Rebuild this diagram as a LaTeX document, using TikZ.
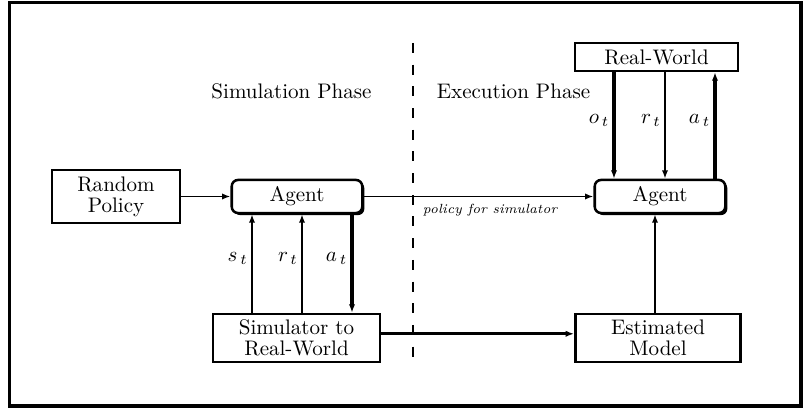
\documentclass[tikz,border=0pt]{standalone}
\usetikzlibrary{arrows.meta,shadows}
\newcommand\boxfont{\fontsize{10}{10}\selectfont}
\newcommand\edgefont{\fontsize{6.3}{7}\selectfont\itshape}
\tikzset{every node/.style={font=\boxfont},
    box/.style={draw,line width=1.2pt,align=center,inner sep=0pt,fill=white},
    agentbox/.style={box,rounded corners=3pt,minimum width=62pt,minimum height=15.7pt,
        drop shadow={shadow xshift=1pt,shadow yshift=-1pt,opacity=1,fill=black}},
    thinarr/.style={line width=0.9pt,-{Latex[length=4pt,width=3pt]}},
    thickarr/.style={line width=1.5pt,-{Latex[length=4pt,width=3pt]}},
    sig/.style={left,inner sep=1.5pt},
    frame/.style={line width=1.5pt},
    phaseline/.style={line width=0.85pt,dash pattern=on 4.75pt off 5.55pt},
    }

\begin{document}
\begin{tikzpicture}[x=0.475pt,y=-0.475pt]
	\useasboundingbox (0,0) rectangle (805,410);
	\draw[frame] (9.5,2.5) rectangle (801,406);
	\draw[phaseline] (413,43) -- (413,366);
	\node (simphase) at (291.5,91) {Simulation Phase};
	\node (exphase) at (513.5,91) {Execution Phase};
	% simulation side
	\node[box,minimum width=60.8pt,minimum height=25.2pt] (rand) at (116,196.5) {Random\\Policy};
	\node[agentbox] (simagent) at (297,196.5) {Agent};
	\node[box,minimum width=79.3pt,minimum height=22.8pt] (sim) at (296.5,338) {Simulator to\\Real-World};
	% execution side
	\node[box,minimum width=77.4pt,minimum height=13.3pt] (world) at (656.5,57) {Real-World};
	\node[agentbox] (exagent) at (660,196.5) {Agent};
	\node[box,minimum width=78.5pt,minimum height=23pt] (model) at (658,338) {Estimated\\Model};
	\coordinate (st) at (252,0);
	\coordinate (rt) at (302,0);
	\coordinate (at) at (352,0);
	\coordinate (ot) at (614,0);
	\coordinate (rw) at (665,0);
	\coordinate (aw) at (715,0);
	\coordinate (em) at (655,0);
	\draw[thinarr] (rand) -- (simagent);
	\draw[thinarr] (simagent) -- (exagent) node[pos=0.55,below,font=\edgefont]{policy for simulator};
	\draw[thinarr] (sim.north -| st) -- (simagent.south -| st) node[sig,pos=0.55]{$s_{\,t}$};
	\draw[thinarr] (sim.north -| rt) -- (simagent.south -| rt) node[sig,pos=0.55]{$r_{\,t}$};
	\draw[thickarr] (simagent.south -| at) -- (sim.north -| at) node[sig,pos=0.45]{$a_{\,t}$};
	\draw[thickarr] ([yshift=2pt]sim.east) -- ([yshift=2pt]model.west);
	\draw[thickarr] (world.south -| ot) -- (exagent.north -| ot) node[sig,pos=0.45]{$o_{\,t}$};
	\draw[thinarr] (world.south -| rw) -- (exagent.north -| rw) node[sig,pos=0.45]{$r_{\,t}$};
	\draw[thickarr] (exagent.north -| aw) -- (world.south -| aw) node[sig,pos=0.55]{$a_{\,t}$};
	\draw[thinarr] (model.north -| em) -- (exagent.south -| em);
\end{tikzpicture}
\end{document}
